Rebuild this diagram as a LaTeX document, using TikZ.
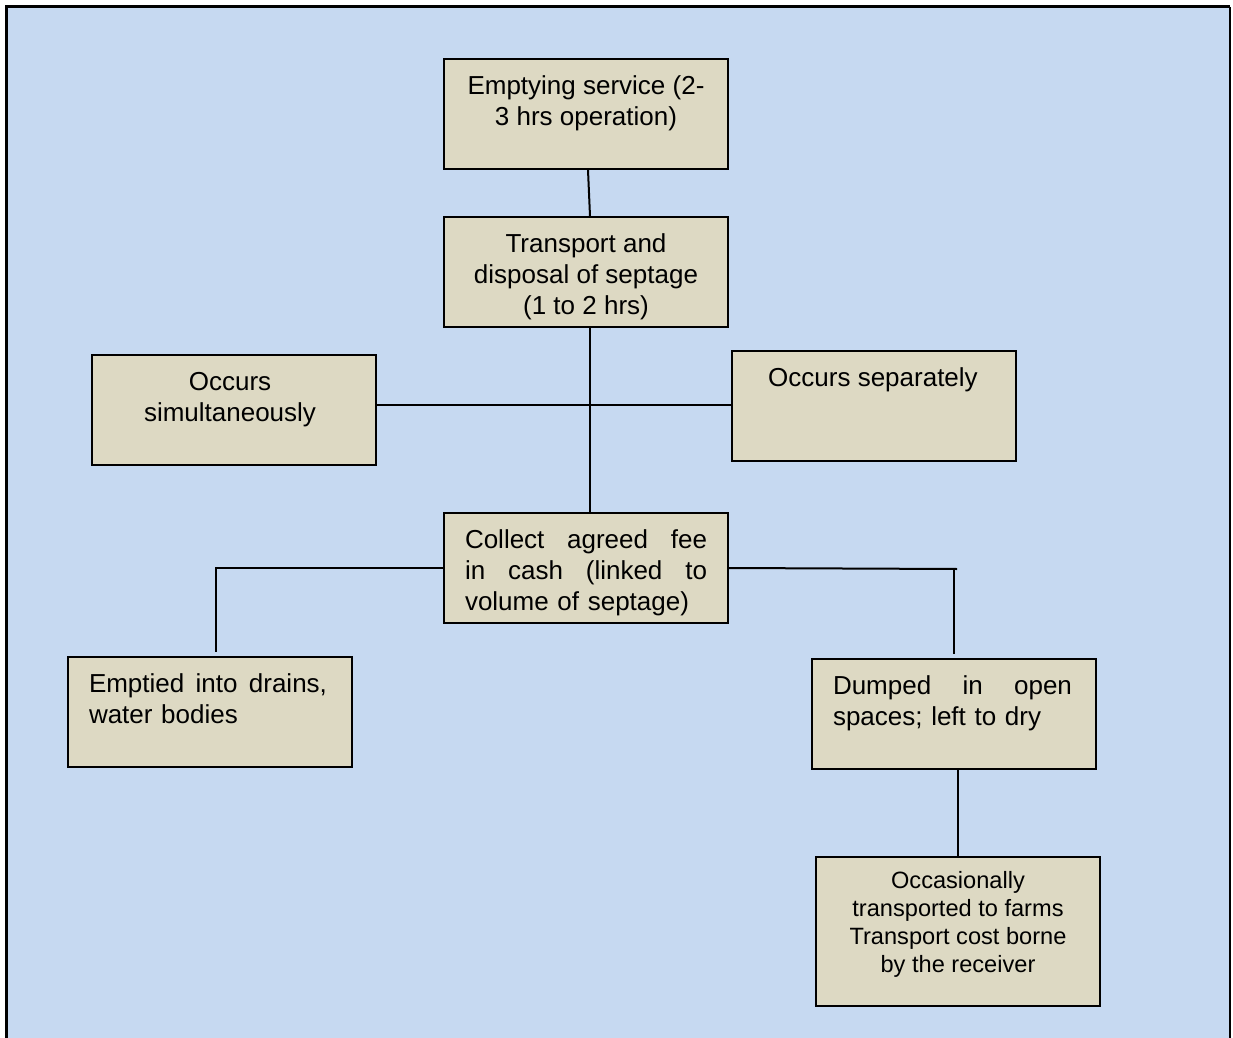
\documentclass[tikz,border=0pt]{standalone}
\usepackage{fontspec}
\setmainfont{Liberation Sans}
\usetikzlibrary{calc}
\definecolor{panelblue}{HTML}{C6D9F1}
\definecolor{boxtan}{HTML}{DDD9C3}
\tikzset{
  stepbox/.style={draw=black, line width=1pt, fill=boxtan, minimum width=142pt,
    minimum height=55pt, inner sep=0pt},
  boxtext/.style={anchor=north, inner sep=0pt, font=\fontsize{13}{15.5}\selectfont,
    yshift=-6.6pt},
  smalltext/.style={anchor=north, inner sep=0pt, font=\fontsize{11.8}{14}\selectfont,
    yshift=-5.6pt},
  link/.style={draw=black, line width=1pt}
}
% a fully justified line of given width
\newcommand{\jline}[2]{\leavevmode\hbox to #1{#2}}
\begin{document}
\begin{tikzpicture}[x=0.5pt, y=-0.5pt]
  \useasboundingbox (0,0) rectangle (1233,1038);
  % panel background and frame
  \fill[white] (0,0) rectangle (1233,1038);
  \fill[panelblue] (6,7) rectangle (1230,1045);
  \draw[line width=1.5pt] (6,1045) -- (6,7) -- (1230,7);
  \draw[line width=1pt] (1230,7) -- (1230,1045);

  % boxes
  \node[stepbox] (b1) at (586,114) {};
  \node[stepbox] (b2) at (586,272) {};
  \node[stepbox] (b3) at (234,410) {};
  \node[stepbox] (b4) at (874,406) {};
  \node[stepbox] (b5) at (586,568) {};
  \node[stepbox] (b6) at (210,712) {};
  \node[stepbox] (b7) at (954,714) {};
  \node[stepbox, minimum height=74.5pt] (b8) at (958,931.5) {};

  % box texts
  \node[boxtext, align=center] (t1) at (586,59) {\strut Emptying service (2-\\3 hrs operation)};
  \node[boxtext, align=center] (t2) at (586,217) {\strut Transport and\\disposal of septage\\(1 to 2 hrs)};
  \node[boxtext, align=center] (t3) at (230,355) {\strut Occurs\\simultaneously};
  \node[boxtext, align=center] (t4) at (873,351) {\strut Occurs separately};
  \node[boxtext, text width=121pt, align=left] (t5) at (586,513)
    {\leavevmode\strut\jline{121pt}{Collect\hfill agreed\hfill fee}\\\jline{121pt}{in\hfill cash\hfill (linked\hfill to}\\volume of septage)};
  \node[boxtext, text width=119pt, align=left] (t6) at (208,657)
    {\leavevmode\strut\jline{119pt}{Emptied\hfill into\hfill drains,}\\water bodies};
  \node[boxtext, text width=119.5pt, align=left] (t7) at (952.5,659)
    {\leavevmode\strut\jline{119.5pt}{Dumped\hfill in\hfill open}\\spaces; left to dry};
  \node[smalltext, align=center] (t8) at (958,857)
    {\strut Occasionally\\transported to farms\\Transport cost borne\\by the receiver};

  % connectors
  \coordinate (c5r) at (957,569);
  \coordinate (c7top) at (954,569);
  \draw[link] ($(b1.south)+(2,0)$) -- ($(b2.north)+(4,0)$);
  \draw[link] ($(b2.south)+(4,0)$) -- ($(b5.north)+(4,0)$);
  \draw[link] ($(b3.east)+(0,-5)$) -- ($(b4.west)+(0,-1)$);
  \draw[link] (b5.west) -| ($(b6.north)+(6,-4)$);
  \draw[link] (b5.east) -- (c5r);
  \draw[link] (c7top) -- ($(b7.north)+(0,-4)$);
  \draw[link] ($(b7.south)+(4,0)$) -- (b8.north);
\end{tikzpicture}
\end{document}
